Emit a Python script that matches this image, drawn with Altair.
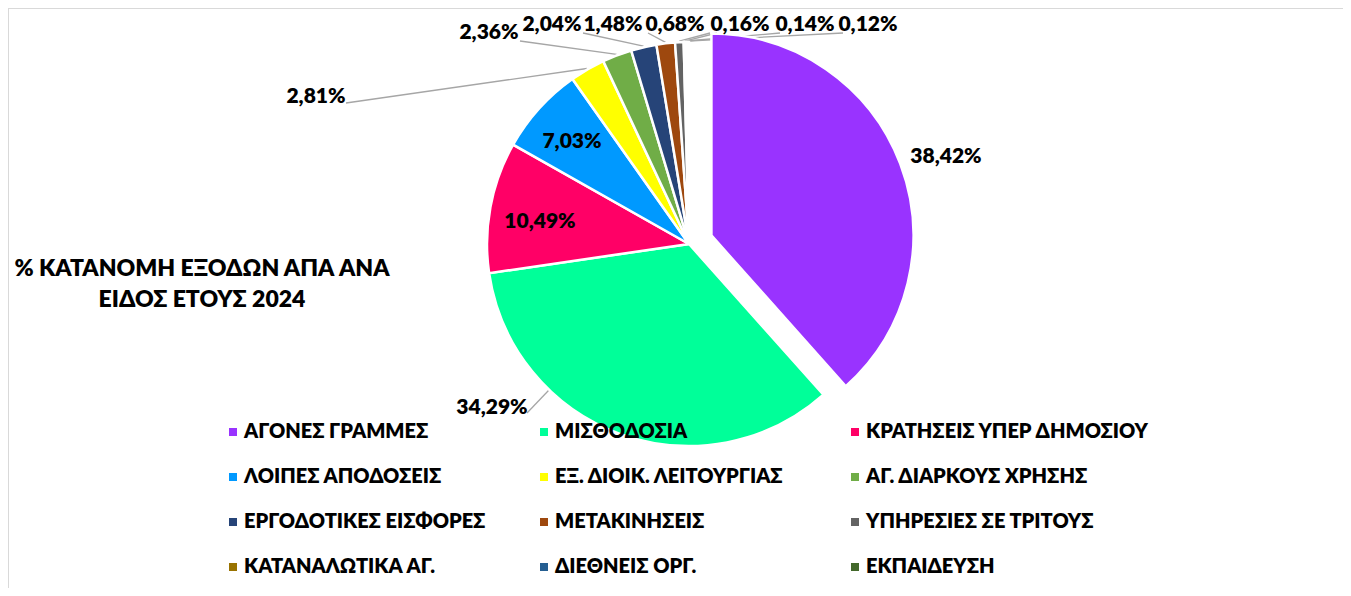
import altair as alt
import pandas as pd
import numpy as np

# ---------------- data ----------------
categories = ["ΑΓΟΝΕΣ ΓΡΑΜΜΕΣ", "ΜΙΣΘΟΔΟΣΙΑ", "ΚΡΑΤΗΣΕΙΣ ΥΠΕΡ ΔΗΜΟΣΙΟΥ",
              "ΛΟΙΠΕΣ ΑΠΟΔΟΣΕΙΣ", "ΕΞ. ΔΙΟΙΚ. ΛΕΙΤΟΥΡΓΙΑΣ", "ΑΓ. ΔΙΑΡΚΟΥΣ ΧΡΗΣΗΣ",
              "ΕΡΓΟΔΟΤΙΚΕΣ ΕΙΣΦΟΡΕΣ", "ΜΕΤΑΚΙΝΗΣΕΙΣ", "ΥΠΗΡΕΣΙΕΣ ΣΕ ΤΡΙΤΟΥΣ",
              "ΚΑΤΑΝΑΛΩΤΙΚΑ ΑΓ.", "ΔΙΕΘΝΕΙΣ ΟΡΓ.", "ΕΚΠΑΙΔΕΥΣΗ"]
values = [38.42, 34.29, 10.49, 7.03, 2.81, 2.36, 2.04, 1.48, 0.68, 0.16, 0.14, 0.12]
colors = ["#9933FF", "#00FF99", "#FF0066", "#0099FF", "#FFFF00", "#70AD47",
          "#264478", "#9E480E", "#636363", "#997300", "#255E91", "#43682B"]
title_text = "% ΚΑΤΑΝΟΜΗ ΕΞΟΔΩΝ ΑΠΑ ΑΝΑ\nΕΙΔΟΣ ΕΤΟΥΣ 2024"

# ---------------- layout (chart pixel space) ----------------
W, H = 1335, 580
CX, CY, R = 681, 236, 202
explode = [24, 0, 0, 0, 0, 0, 0, 0, 0, 0, 0, 0]
label_x = [938, 484, 532, 564, 308, 481, 544, 605, 667, 732, 797, 860]
label_y = [149, 400, 214, 134, 89, 25, 17, 17, 17, 17, 17, 17]
lead_x = [None, 519, None, None, 338, 512, 575, 640, 702, 709, 772, 835]
lead_y = [None, 405, None, None, 95, 33, 25, 25, 25, 25, 25, 25]
lead_mode = ["", "near", "", "", "mid", "mid", "mid", "mid", "mid", "mid", "mid", "mid"]

FONT = "Lato"
WEIGHT = 800

total = float(sum(values))
cum = np.concatenate([[0.0], np.cumsum(values)])
a0 = 2 * np.pi * cum[:-1] / total
a1 = 2 * np.pi * cum[1:] / total
mid = (a0 + a1) / 2
ex = np.array(explode, dtype=float)

df = pd.DataFrame({
    "cat": categories,
    "val": values,
    "a0": a0,
    "a1": a1,
    "ox": CX + ex * np.sin(mid),
    "oy": CY - ex * np.cos(mid),
    "label": [f"{v:.2f}".replace(".", ",") + "%" for v in values],
    "lx": label_x,
    "ly": label_y,
})

# leader lines
rows = []
for i in range(len(values)):
    if lead_x[i] is None:
        continue
    sx, sy = lead_x[i], lead_y[i]
    if lead_mode[i] == "mid":
        ex_, ey_ = CX + (R + 1) * np.sin(mid[i]), CY - (R + 1) * np.cos(mid[i])
    else:
        dx, dy = sx - CX, sy - CY
        n = np.hypot(dx, dy)
        ex_, ey_ = CX + R * dx / n, CY + R * dy / n
    rows.append({"cat": categories[i], "sx": sx, "sy": sy, "ex": ex_, "ey": ey_})
lead_df = pd.DataFrame(rows)

color_scale = alt.Scale(domain=categories, range=colors)

arcs = alt.Chart(df).mark_arc(outerRadius=R, stroke="white", strokeWidth=2.5).encode(
    x=alt.X("ox:Q", scale=None),
    y=alt.Y("oy:Q", scale=None),
    theta=alt.Theta("a0:Q", scale=None),
    theta2="a1:Q",
    color=alt.Color(
        "cat:N", scale=color_scale, sort=categories, title=None,
        legend=alt.Legend(
            orient="none", legendX=215, legendY=414, columns=3, direction="horizontal",
            gridAlign="all", columnPadding=6, rowPadding=25, padding=0,
            symbolType="square", symbolSize=64, symbolStrokeWidth=0,
            labelFont=FONT, labelFontWeight=WEIGHT, labelFontSize=20,
            labelColor="black", labelLimit=500, labelOffset=1,
        ),
    ),
)

leaders = alt.Chart(lead_df).mark_rule(color="#A6A6A6", strokeWidth=1.3).encode(
    x=alt.X("sx:Q", scale=None),
    y=alt.Y("sy:Q", scale=None),
    x2="ex:Q",
    y2="ey:Q",
)

labels = alt.Chart(df).mark_text(
    font=FONT, fontWeight=WEIGHT, fontSize=21, color="black",
    align="center", baseline="middle",
).encode(
    x=alt.X("lx:Q", scale=None),
    y=alt.Y("ly:Q", scale=None),
    text="label:N",
)

title = alt.Chart(pd.DataFrame({"t": [title_text]})).mark_text(
    font=FONT, fontWeight=WEIGHT, fontSize=23, color="black",
    align="center", baseline="middle", lineBreak="\n", lineHeight=31,
).encode(
    x=alt.value(194), y=alt.value(261), text="t:N",
)

border_top = alt.Chart(pd.DataFrame({"a": [0]})).mark_rule(color="#D9D9D9", strokeWidth=2).encode(
    x=alt.value(0), x2=alt.value(W), y=alt.value(0)
)
border_left = alt.Chart(pd.DataFrame({"a": [0]})).mark_rule(color="#D9D9D9", strokeWidth=2).encode(
    x=alt.value(0), y=alt.value(0), y2=alt.value(H)
)

chart = alt.layer(border_top, border_left, leaders, arcs, labels, title).properties(
    width=W, height=H, padding=0, autosize=alt.AutoSizeParams(type="none"),
).configure_view(stroke=None)

chart.save("out.html", embed_options={"renderer": "svg", "actions": False})
